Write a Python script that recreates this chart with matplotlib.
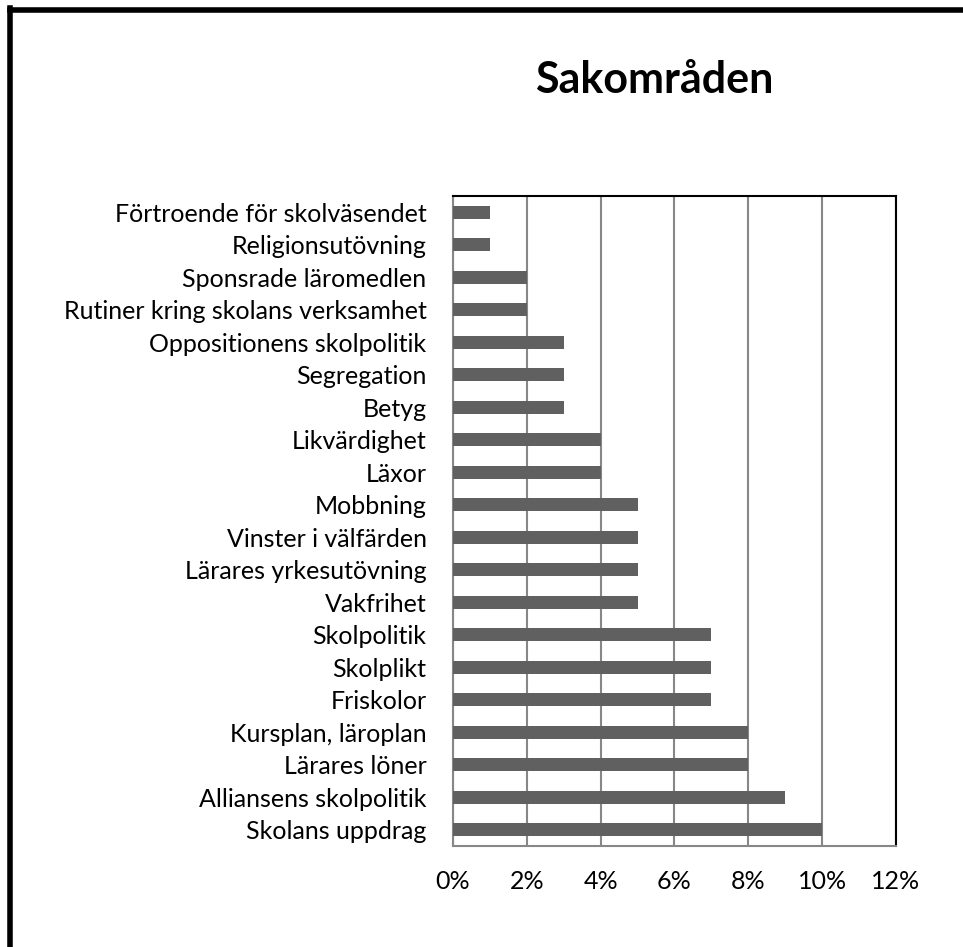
import matplotlib.pyplot as plt
from matplotlib.lines import Line2D
from matplotlib.ticker import PercentFormatter

plt.rcParams['font.family'] = ['Lato', 'DejaVu Sans']

# categories listed top to bottom as in the chart
categories = [
    "Förtroende för skolväsendet",
    "Religionsutövning",
    "Sponsrade läromedlen",
    "Rutiner kring skolans verksamhet",
    "Oppositionens skolpolitik",
    "Segregation",
    "Betyg",
    "Likvärdighet",
    "Läxor",
    "Mobbning",
    "Vinster i välfärden",
    "Lärares yrkesutövning",
    "Vakfrihet",
    "Skolpolitik",
    "Skolplikt",
    "Friskolor",
    "Kursplan, läroplan",
    "Lärares löner",
    "Alliansens skolpolitik",
    "Skolans uppdrag",
]
shares = [1, 1, 2, 2, 3, 3, 3, 4, 4, 5, 5, 5, 5, 7, 7, 7, 8, 8, 9, 10]
xticks = [0, 2, 4, 6, 8, 10, 12]

fig = plt.figure(figsize=(9.63, 9.47), dpi=100)
ax = fig.add_axes([0.4704, 0.1067, 0.46, 0.6864])

pos = list(range(len(categories)))[::-1]
ax.barh(pos, shares, height=0.4, color="#606060", zorder=3)

ax.set_xlim(0, 12)
ax.set_ylim(-0.5, len(categories) - 0.5)
ax.set_xticks(xticks)
ax.xaxis.set_major_formatter(PercentFormatter(decimals=0))
ax.set_yticks(pos)
ax.set_yticklabels(categories)
ax.tick_params(axis="both", length=0, labelsize=18, colors="black")
ax.tick_params(axis="y", pad=19)
ax.tick_params(axis="x", pad=17)
ax.grid(axis="x", color="#878787", linewidth=1.5, zorder=0)

ax.spines["left"].set_color("#878787")
ax.spines["bottom"].set_color("#878787")
ax.spines["left"].set_linewidth(1.5)
ax.spines["bottom"].set_linewidth(1.5)
ax.spines["top"].set_color("black")
ax.spines["right"].set_color("black")
ax.spines["top"].set_linewidth(1.5)
ax.spines["right"].set_linewidth(1.5)

fig.text(0.679, 0.9155, "Sakområden", ha="center", va="center",
         fontsize=31, fontweight="bold")

# outer chart border (only top and left visible in the crop)
fig.add_artist(Line2D([9.5 / 963, 1], [1 - 10.5 / 947, 1 - 10.5 / 947],
                      transform=fig.transFigure, color="black", linewidth=4))
fig.add_artist(Line2D([9.5 / 963, 9.5 / 963], [0, 1 - 8 / 947],
                      transform=fig.transFigure, color="black", linewidth=4))

fig.savefig("out.png", dpi=100)
